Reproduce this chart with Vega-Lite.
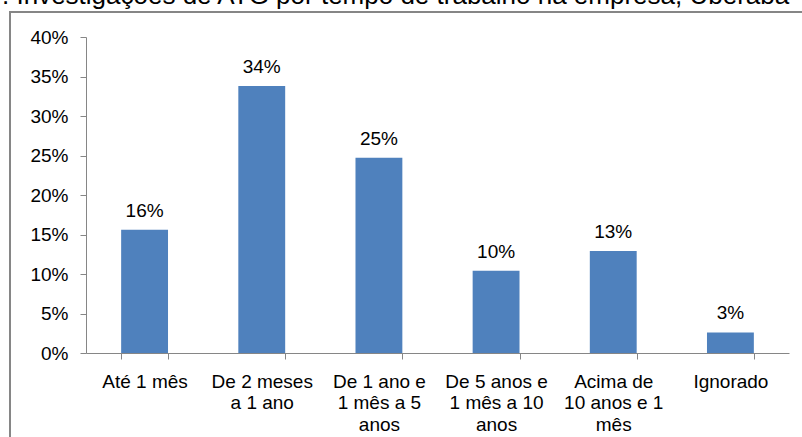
{
  "$schema": "https://vega.github.io/schema/vega-lite/v6.json",
  "width": 800,
  "height": 440,
  "autosize": {"type": "none"},
  "padding": {"left": 10, "top": 12, "right": 0, "bottom": 0},
  "background": "white",
  "title": {
    "text": ". Investigações de ATG por tempo de trabalho na empresa, Uberaba",
    "anchor": "start",
    "frame": "group",
    "orient": "top",
    "baseline": "alphabetic",
    "offset": 0,
    "dx": -8,
    "dy": 18,
    "font": "Liberation Sans",
    "fontSize": 26,
    "fontWeight": "normal",
    "color": "#000000"
  },
  "config": {
    "view": {"stroke": "#868686", "strokeWidth": 2, "fill": "white"},
    "font": "Liberation Sans"
  },
  "data": {
    "values": [
      {"tempo": "Até 1 mês", "pct": 0.156},
      {"tempo": "De 2 meses a 1 ano", "pct": 0.338},
      {"tempo": "De 1 ano e 1 mês a 5 anos", "pct": 0.247},
      {"tempo": "De 5 anos e 1 mês a 10 anos", "pct": 0.104},
      {"tempo": "Acima de 10 anos e 1 mês", "pct": 0.129},
      {"tempo": "Ignorado", "pct": 0.026}
    ]
  },
  "encoding": {
    "x": {
      "field": "tempo",
      "type": "nominal",
      "sort": null,
      "scale": {"range": [76, 779], "paddingInner": 0.6, "paddingOuter": 0.3},
      "axis": {
        "title": null,
        "orient": "bottom",
        "offset": -99,
        "labelAngle": 0,
        "tickBand": "extent",
        "domainColor": "#868686",
        "tickColor": "#868686",
        "tickSize": 6,
        "labelPadding": 13,
        "labelBaseline": "top",
        "labelFont": "Liberation Sans",
        "labelFontSize": 19,
        "labelColor": "#000000",
        "labelLineHeight": 21.5,
        "labelLimit": 300,
        "labelOverlap": false,
        "labelExpr": "datum.value == 'De 2 meses a 1 ano' ? ['De 2 meses', 'a 1 ano'] : datum.value == 'De 1 ano e 1 mês a 5 anos' ? ['De 1 ano e', '1 mês a 5', 'anos'] : datum.value == 'De 5 anos e 1 mês a 10 anos' ? ['De 5 anos e', '1 mês a 10', 'anos'] : datum.value == 'Acima de 10 anos e 1 mês' ? ['Acima de', '10 anos e 1', 'mês'] : datum.value"
      }
    },
    "y": {
      "field": "pct",
      "type": "quantitative",
      "scale": {"domain": [0, 0.4], "range": [341, 25], "nice": false},
      "axis": {
        "title": null,
        "offset": -76,
        "values": [0, 0.05, 0.1, 0.15, 0.2, 0.25, 0.3, 0.35, 0.4],
        "format": ".0%",
        "grid": false,
        "domainColor": "#868686",
        "tickColor": "#868686",
        "tickSize": 6,
        "labelPadding": 12,
        "labelFont": "Liberation Sans",
        "labelFontSize": 19,
        "labelColor": "#000000"
      }
    }
  },
  "layer": [
    {"mark": {"type": "bar", "color": "#4f81bd"}},
    {
      "mark": {
        "type": "text",
        "baseline": "alphabetic",
        "dy": -13,
        "font": "Liberation Sans",
        "fontSize": 19,
        "color": "#000000"
      },
      "encoding": {"text": {"field": "pct", "type": "quantitative", "format": ".0%"}}
    }
  ]
}
